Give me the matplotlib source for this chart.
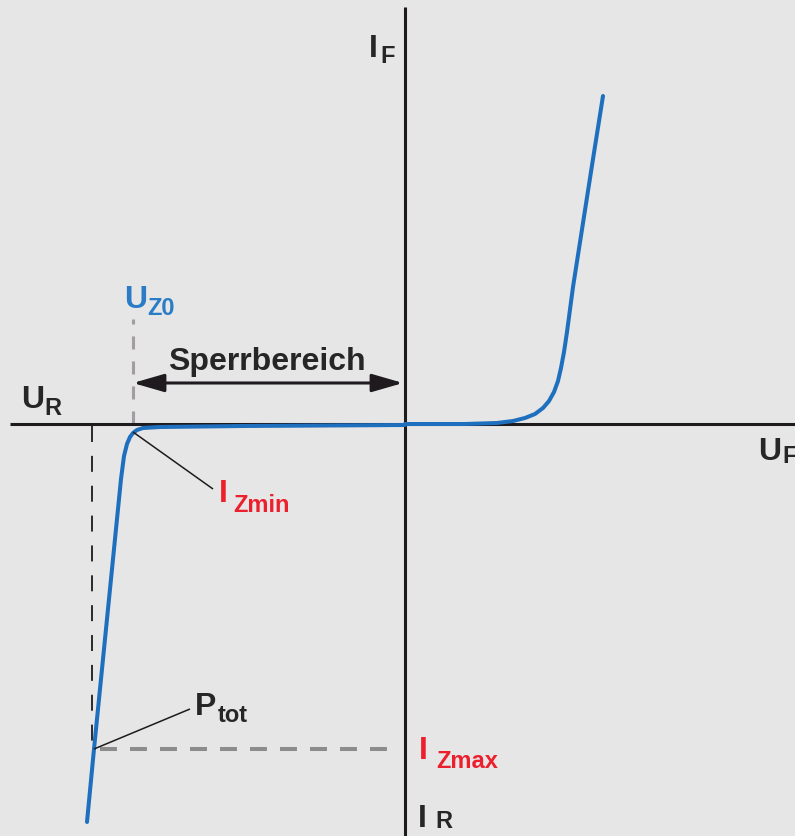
import numpy as np
import matplotlib.pyplot as plt

plt.rcParams.update({
    "font.family": "Liberation Sans",
    "font.weight": "bold",
    "lines.scale_dashes": False,
    "lines.solid_capstyle": "butt",
})

# Kennlinie der Z-Diode (Einheiten: Pixel relativ zum Achsenursprung)
# Durchlassbereich
fwd_u = np.array([0, 60, 92, 108, 120, 130, 138, 144, 149, 153, 156, 159, 162,
                  168, 178, 188, 198])
fwd_i = np.array([0, 0, 1, 3, 6, 10, 16, 23, 32, 43, 56, 72, 92,
                  137, 201, 265, 328])

# Sperr- und Durchbruchbereich
rev_u = np.array([0, -162, -245, -262, -268, -272, -275, -278, -281, -284,
                  -288, -302, -311, -318])
rev_i = np.array([-1, -2, -3, -4, -6, -9, -13, -20, -32, -55,
                  -95, -235, -325, -398])

# Kennwerte
u_z0 = -272          # Zenerspannung
u_ptot = -313        # Spannung bei Ptot
i_zmax = -325        # maximaler Zenerstrom
izmin_point = (-272, -8)
ptot_point = (-311, -325)

BG = "#e6e6e6"
BLUE = "#1f6fbf"
RED = "#ec1f2d"
DARK = "#1e1a1e"
TXT = "#262626"

fig = plt.figure(figsize=(7.95, 8.37), dpi=100, facecolor=BG)
ax = fig.add_axes([0, 0, 1, 1])
ax.set_facecolor(BG)
ax.set_xlim(-405, 390)
ax.set_ylim(-412, 425)
ax.axis("off")

# Achsen
ax.plot([-395, 390], [0, 0], color=DARK, lw=2.2, zorder=2)
ax.plot([0, 0], [-412, 417], color=DARK, lw=2.2, zorder=2)

# Hilfslinien
ax.plot([u_z0, u_z0], [0, 105], color="#a39ca3", lw=2.2,
        linestyle=(0, (9.4, 8.6)), zorder=1)
ax.plot([u_ptot, u_ptot], [-2, i_zmax], color=DARK, lw=1.3,
        linestyle=(0, (11.5, 10)), zorder=1)
ax.plot([-305, -13], [i_zmax, i_zmax], color="#8c8c8c", lw=2.9,
        linestyle=(0, (12.2, 9.4)), zorder=1)

# Kennlinie
ax.plot(fwd_u, fwd_i, color=BLUE, lw=2.9, zorder=3, solid_capstyle="round",
        solid_joinstyle="round")
ax.plot(rev_u, rev_i, color=BLUE, lw=2.9, zorder=3, solid_capstyle="round",
        solid_joinstyle="round")

# Bezugslinien für IZmin und Ptot
ax.plot([izmin_point[0], -192], [izmin_point[1], -65], color=DARK, lw=1.1, zorder=4)
ax.plot([ptot_point[0], -215], [ptot_point[1], -285], color=DARK, lw=1.1, zorder=4)

# Sperrbereich-Pfeil
ax.annotate("", xy=(-272, 41), xytext=(-2, 41),
            arrowprops=dict(arrowstyle="<|-|>,head_length=1.9,head_width=0.55",
                            color=DARK, lw=2.2, shrinkA=0, shrinkB=0))
ax.text(-138, 55, "Sperrbereich", fontsize=23, color=TXT,
        ha="center", va="baseline")


def sublabel(x, y, main, sub, xs, ys, color):
    ax.text(x, y, main, fontsize=23, color=color, ha="left", va="baseline")
    ax.text(xs, ys, sub, fontsize=17, color=color, ha="left", va="baseline")


sublabel(-384, 17, "U", "R", -361, 10, TXT)
sublabel(-281, 117, "U", "Z0", -258, 110, "#2a7cc6")
sublabel(-36, 368, "I", "F", -25, 362, TXT)
sublabel(353, -35, "U", "F", 377, -38, TXT)
sublabel(-186, -77, "I", "Zmin", -172, -87, RED)
sublabel(-210, -290, "P", "tot", -187, -297, TXT)
sublabel(14, -334, "I", "Zmax", 31, -343, RED)
sublabel(13, -402, "I", "R", 30, -403, TXT)

plt.savefig("out.png", dpi=100, facecolor=BG)
